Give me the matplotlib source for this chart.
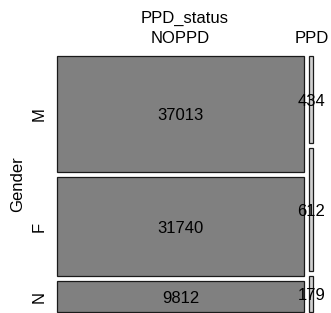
import matplotlib
matplotlib.use("Agg")
import matplotlib.pyplot as plt
from matplotlib.patches import Rectangle
import numpy as np

# data: Gender x PPD_status counts
GENDERS = ["M", "F", "N"]
STATUSES = ["NOPPD", "PPD"]
NOPPD_COUNTS = [37013, 31740, 9812]
PPD_COUNTS = [434, 612, 179]
ROW_VAR = "Gender"
COL_VAR = "PPD_status"

FILLS = ["#808080", "#cfcfcf"]  # thin PPD column renders light inside
EDGE = "#1a1a1a"

plt.rcParams.update({
    "font.family": ["Liberation Sans", "DejaVu Sans"],
    "font.size": 12,
})

# mosaic region in pixel units
X0, Y0, W, H = 56.7, 56.0, 256.6, 256.0
GAP = 5.0

fig = plt.figure(figsize=(3.31, 3.13), dpi=100)
ax = fig.add_axes([0, 0, 1, 1])
ax.set_xlim(0, 331)
ax.set_ylim(313, 0)
ax.axis("off")

table = np.array([NOPPD_COUNTS, PPD_COUNTS], dtype=float)  # cols x rows
col_tot = table.sum(axis=1)
col_w = (W - GAP * (len(STATUSES) - 1)) * col_tot / col_tot.sum()

x = X0
for j, status in enumerate(STATUSES):
    heights = (H - GAP * (len(GENDERS) - 1)) * table[j] / col_tot[j]
    y = Y0
    for i, g in enumerate(GENDERS):
        ax.add_patch(Rectangle((x, y), col_w[j], heights[i], facecolor=FILLS[j],
                               edgecolor=EDGE, linewidth=0.9))
        ax.text(x + col_w[j] / 2, y + heights[i] / 2, f"{int(table[j, i])}",
                ha="center", va="center_baseline", fontsize=12)
        if j == 0:
            ax.text(43.3, y + heights[i] / 2, g, rotation=90,
                    rotation_mode="anchor", ha="center", va="baseline")
        y += heights[i] + GAP
    ax.text(x + col_w[j] / 2, 42.7, status, ha="center", va="baseline")
    x += col_w[j] + GAP

ax.text(X0 + W / 2, 22.7, COL_VAR, ha="center", va="baseline")
ax.text(21.7, Y0 + H / 2, ROW_VAR, rotation=90, rotation_mode="anchor",
        ha="center", va="baseline")

fig.savefig("out.png", dpi=100)
